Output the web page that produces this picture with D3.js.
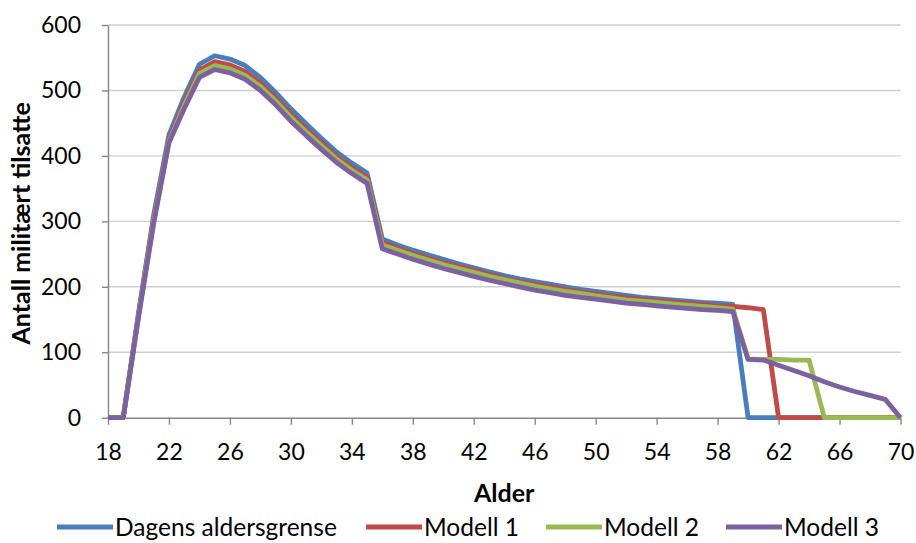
<!DOCTYPE html>
<head>
  <meta charset="utf-8">
  <script src="https://d3js.org/d3.v7.min.js"></script>
  <style>
    body { margin: 0; background: #fff; }
    text { font-family: Lato, "Liberation Sans", sans-serif; fill: #000; }
    .grid line { stroke: #cfcfcf; stroke-width: 1.4px; }
    .axis path, .axis line { stroke: #868686; stroke-width: 1.4px; }
    .series { fill: none; stroke-width: 4.8px; stroke-linejoin: round; }
  </style>
</head>

<body>
  <script>

    // ages 18..70
    var ages = d3.range(18, 71);

    var dagens = [0, 0, 160, 310, 432, 490, 540, 553, 548, 538, 520, 497, 472, 449, 427, 406, 389, 374,
      273, 264, 256, 249, 242, 235, 229, 223, 217, 212, 208, 204, 200, 196, 193, 190, 187, 184, 182, 180,
      178, 176, 175, 173, 0, 0, 0, 0, 0, 0, 0, 0, 0, 0, 0];
    var modell1 = [0, 0, 157, 305, 425, 482, 531, 544, 539, 529, 511, 489, 464, 441, 420, 399, 382, 367,
      268, 259, 251, 244, 237, 231, 225, 219, 213, 208, 204, 200, 196, 192, 189, 186, 183, 181, 179, 177,
      175, 173, 171, 170, 168, 165, 0, 0, 0, 0, 0, 0, 0, 0, 0];
    var modell2 = [0, 0, 155, 301, 422, 477, 526, 538, 533, 523, 506, 484, 459, 437, 416, 395, 378, 363,
      264, 256, 248, 241, 234, 228, 222, 216, 211, 206, 201, 197, 193, 190, 186, 183, 180, 178, 176, 174,
      172, 170, 168, 166, 90, 89, 89, 88, 88, 0, 0, 0, 0, 0, 0];
    var modell3 = [0, 0, 153, 297, 420, 472, 520, 532, 527, 517, 500, 478, 453, 431, 410, 390, 373, 358,
      258, 250, 242, 235, 228, 222, 216, 210, 205, 200, 195, 191, 187, 184, 181, 178, 175, 173, 171, 169,
      167, 165, 164, 162, 89, 88, 80, 72, 64, 55, 47, 40, 34, 28, 0];

    var seriesNames = ["Dagens aldersgrense", "Modell 1", "Modell 2", "Modell 3"];
    var seriesValues = [dagens, modell1, modell2, modell3];
    var colors = ["#4a7ebb", "#be4b48", "#98b954", "#7d60a0"];

    var xTicks = d3.range(18, 71, 4);
    var yTicks = [0, 100, 200, 300, 400, 500, 600];

    var svg = d3.select("body").append("svg")
      .attr("width", 916)
      .attr("height", 543);

    var x = d3.scaleLinear().domain([18, 70]).range([108, 900.5]);
    var y = d3.scaleLinear().domain([0, 600]).range([417.7, 25]);

    // gridlines
    svg.append("g").attr("class", "grid")
      .selectAll("line").data(yTicks.slice(1)).enter().append("line")
      .attr("x1", x(18)).attr("x2", x(70))
      .attr("y1", function(d) { return y(d); })
      .attr("y2", function(d) { return y(d); });

    var yAxis = svg.append("g").attr("class", "axis")
      .attr("transform", "translate(" + x(18) + ",0)")
      .call(d3.axisLeft(y).tickValues(yTicks).tickSize(6).tickPadding(21).tickSizeOuter(0));
    yAxis.selectAll("text").style("font-size", "23px");

    var xAxis = svg.append("g").attr("class", "axis")
      .attr("transform", "translate(0," + y(0) + ")")
      .call(d3.axisBottom(x).tickValues(xTicks).tickSize(7).tickPadding(19).tickSizeOuter(0));
    xAxis.selectAll("text").style("font-size", "23px");

    var line = d3.line()
      .x(function(d, i) { return x(ages[i]); })
      .y(function(d) { return y(d); });

    svg.selectAll(".series").data(seriesValues).enter().append("path")
      .attr("class", "series")
      .attr("stroke", function(d, i) { return colors[i]; })
      .attr("d", line);

    // axis titles
    svg.append("text")
      .attr("x", x(44)).attr("y", 502)
      .attr("text-anchor", "middle")
      .style("font-size", "25px").style("font-weight", "bold")
      .text("Alder");

    svg.append("text")
      .attr("transform", "translate(30," + (y(300) + 2) + ") rotate(-90)")
      .attr("text-anchor", "middle")
      .style("font-size", "25px").style("font-weight", "bold")
      .text("Antall militært tilsatte");

    // legend
    var legendX = [57, 366, 546, 726];
    var legend = svg.selectAll(".legend").data(seriesNames).enter().append("g")
      .attr("class", "legend")
      .attr("transform", function(d, i) { return "translate(" + legendX[i] + ",527)"; });
    legend.append("line")
      .attr("x1", 0).attr("x2", 56)
      .attr("stroke-width", 4.8)
      .attr("stroke", function(d, i) { return colors[i]; });
    legend.append("text")
      .attr("x", 58).attr("y", 9)
      .style("font-size", "24.5px")
      .text(function(d) { return d; });

  </script>
</body>
